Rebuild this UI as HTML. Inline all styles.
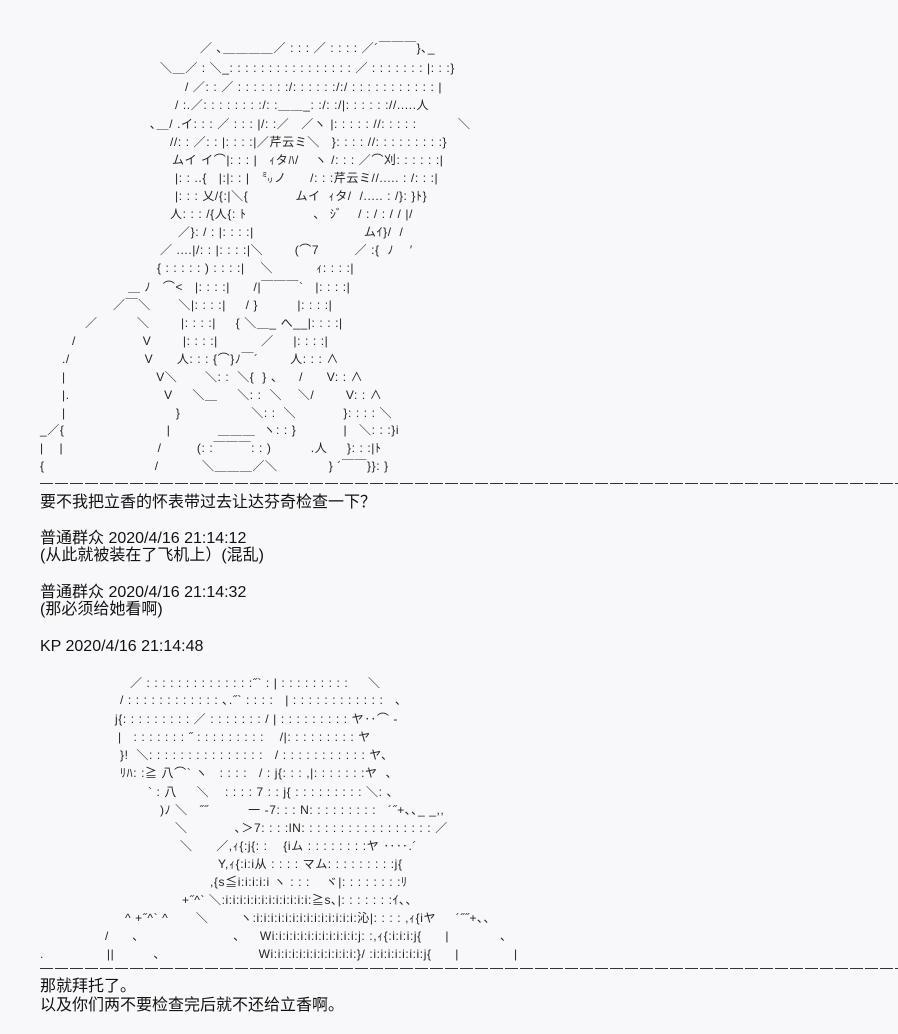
<!DOCTYPE html>
<html><head><meta charset="utf-8">
<style>
html,body{margin:0;padding:0;background:#f8f8fa;}
body{width:898px;height:1034px;position:relative;overflow:hidden;color:#111;
font-family:"Liberation Sans","Noto Sans CJK JP",sans-serif;}
.a{position:absolute;white-space:pre;font-size:12px;line-height:14px;color:#222;letter-spacing:0.6px;}
.t{position:absolute;left:40px;white-space:pre;font-size:16px;line-height:18px;color:#111;
font-family:"Liberation Sans","Noto Sans CJK SC",sans-serif;}
.sep{position:absolute;left:40px;width:858px;height:1px;
background:repeating-linear-gradient(90deg,#333 0 13px,transparent 13px 15px);}
</style></head><body>

<div class="a" style="left:200px;top:41px">／ ､＿＿＿＿／ : : : ／ : : : : ／´￣￣￣}､_</div>
<div class="a" style="left:160px;top:61px">＼＿／ : ＼_: : : : : : : : : : : : : : : : ／ : : : : : : : |: : :}</div>
<div class="a" style="left:185px;top:80px">/ ／: : ／ : : : : : : :/: : : : : :/:/ : : : : : : : : : : : |</div>
<div class="a" style="left:175px;top:98px">/ :.／: : : : : : : :/: :＿＿_: :/: :/|: : : : : ://.....人</div>
<div class="a" style="left:458px;top:117px">＼</div>
<div class="a" style="left:150px;top:117px">､＿/ .イ: : : ／ : : : |/: :／   ／ヽ |: : : : : //: : : : :</div>
<div class="a" style="left:170px;top:135px">//: : ／: : |: : : :|／芹云ミ＼   }: : : : //: : : : : : : : :}</div>
<div class="a" style="left:172px;top:153px">ムイ イ⌒|: : : |   ｨタﾊ/    ヽ /: : : ／⌒刈: : : : : :|</div>
<div class="a" style="left:175px;top:171px">|: : ..{   |:|: : |   ㍉ノ      /: : :芹云ミ//..... : /: : :|</div>
<div class="a" style="left:175px;top:189px">|: : : 乂/{:|＼{            ムイ  ｨタ/  /..... : /}: }ﾄ}</div>
<div class="a" style="left:170px;top:207px">人: : : /{人{: ﾄ                 、 ｼﾞ    / : / : / / |/</div>
<div class="a" style="left:178px;top:225px">／}: / : |: : : :|                            ムｲ}/  /</div>
<div class="a" style="left:160px;top:243px">／ ....|/: : |: : : :|＼        (⌒7         ／ :{  ﾉ    ′</div>
<div class="a" style="left:157px;top:261px">{ : : : : : ) : : : :|    ＼           ｨ: : : :|</div>
<div class="a" style="left:128px;top:280px">＿ ﾉ   ⌒&lt;   |: : : :|      /|￣￣￣`   |: : : :|</div>
<div class="a" style="left:113px;top:298px">／￣＼       ＼|: : : :|     / }          |: : : :|</div>
<div class="a" style="left:85px;top:316px">／          ＼        |: : : :|     { ＼＿_ へ__|: : : :|</div>
<div class="a" style="left:72px;top:334px">/                 V        |: : : :|           ／     |: : : :|</div>
<div class="a" style="left:62px;top:352px">./                   V      人: : : {⌒}ﾉ￣´        人: : : ∧</div>
<div class="a" style="left:62px;top:370px">|                       V＼       ＼: :  ＼{  } 、    /      V: : ∧</div>
<div class="a" style="left:62px;top:388px">|.                        V     ＼＿     ＼: :  ＼    ＼/        V: : ∧</div>
<div class="a" style="left:62px;top:406px">|                            }                  ＼: :  ＼            }: : : : ＼</div>
<div class="a" style="left:40px;top:423px">_／{                          |            ＿＿＿  ヽ: : }            |   ＼: : :}i</div>
<div class="a" style="left:40px;top:441px">|    |                        /         (: :￣￣￣: : )          .人     }: : :|ﾄ</div>
<div class="a" style="left:40px;top:459px">{                            /           ＼＿＿＿／＼             } ´￣￣}}: }</div>

<div class="sep" style="top:483px"></div>
<div class="t" style="top:494px">要不我把立香的怀表带过去让达芬奇检查一下？</div>
<div class="t" style="top:530px">普通群众 2020/4/16 21:14:12</div>
<div class="t" style="top:547px">(从此就被装在了飞机上）(混乱)</div>
<div class="t" style="top:584px">普通群众 2020/4/16 21:14:32</div>
<div class="t" style="top:601px">(那必须给她看啊)</div>
<div class="t" style="top:638px">KP 2020/4/16 21:14:48</div>

<div class="a" style="left:130px;top:676px">／ : : : : : : : : : : : : : :˝` : | : : : : : : : : :     ＼</div>
<div class="a" style="left:120px;top:693px">/ : : : : : : : : : : : : ､.˝` : : : :   | : : : : : : : : : : : :   ､</div>
<div class="a" style="left:115px;top:712px">j{: : : : : : : : : ／ : : : : : : : / | : : : : : : : : : ヤ‥⌒ -</div>
<div class="a" style="left:118px;top:730px">|   : : : : : : : ˝ : : : : : : : : :    /|: : : : : : : : : ヤ</div>
<div class="a" style="left:120px;top:748px">}!  ＼: : : : : : : : : : : : : : :   / : : : : : : : : : : : ヤ、</div>
<div class="a" style="left:120px;top:766px">ﾘﾊ: :≧ 八⌒` ヽ   : : : :   / : j{: : : ,|: : : : : : :ヤ  、</div>
<div class="a" style="left:148px;top:785px">` : 八     ＼    : : : : 7 : : j{ : : : : : : : : : ＼: 、</div>
<div class="a" style="left:160px;top:803px">)ﾉ ＼   ˝˝          一 ‐7: : : N: : : : : : : : :   ´˝+､､_ _,,</div>
<div class="a" style="left:175px;top:821px">＼            ､＞7: : : :lN: : : : : : : : : : : : : : : : : ／</div>
<div class="a" style="left:180px;top:839px">＼      ／,ｨ{:j{: :    {iム : : : : : : : :ヤ ‥‥.´</div>
<div class="a" style="left:218px;top:857px">Y,ｨ{:i:i从 : : : : マム: : : : : : : : :j{</div>
<div class="a" style="left:210px;top:875px">,{s≦i:i:i:i:i ヽ : : :    ヾ|: : : : : : : :ﾘ</div>
<div class="a" style="left:182px;top:893px">+˝^` ＼:i:i:i:i:i:i:i:i:i:i:i:i:≧s､|: : : : : : :ｲ､､</div>
<div class="a" style="left:125px;top:911px">^ +˝^` ^       ＼        ヽ:i:i:i:i:i:i:i:i:i:i:i:i:i:i:沁|: : : : ,ｨ{iヤ     ´˝˝+､､</div>
<div class="a" style="left:105px;top:929px">/      ､                        ､     Wi:i:i:i:i:i:i:i:i:i:i:i:j: :,ｨ{:i:i:i:j{      |             ､</div>
<div class="a" style="left:40px;top:947px">.                ||          ､                         Wi:i:i:i:i:i:i:i:i:i:i:i:}/ :i:i:i:i:i:i:i:j{      |              |</div>

<div class="sep" style="top:968px"></div>
<div class="t" style="top:978px">那就拜托了。</div>
<div class="t" style="top:997px">以及你们两不要检查完后就不还给立香啊。</div>
</body></html>
